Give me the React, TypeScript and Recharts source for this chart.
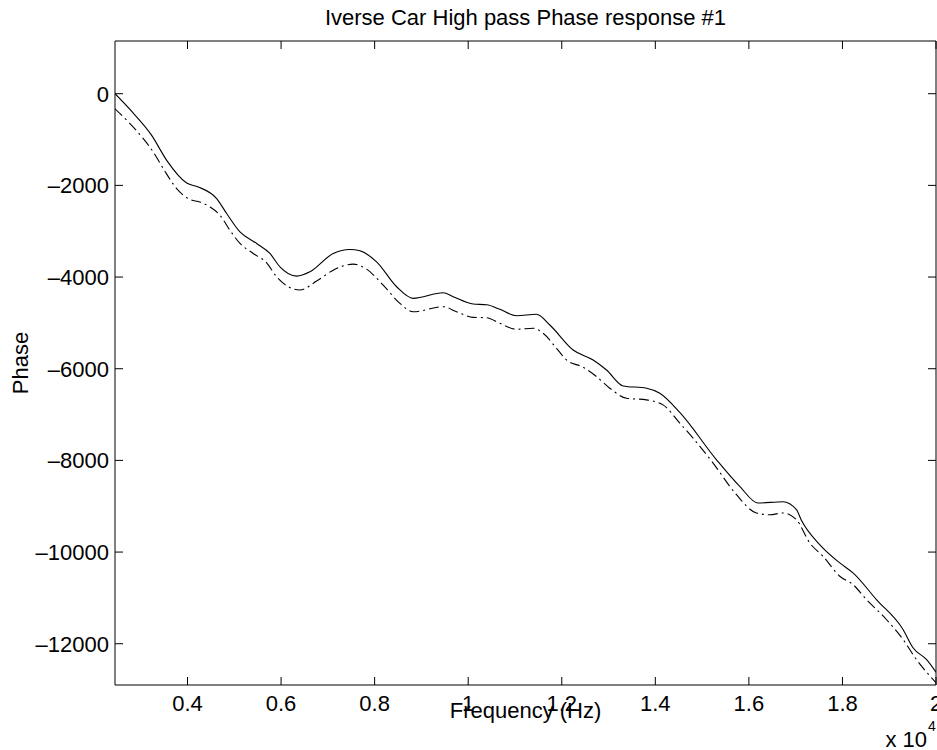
import React from 'react';
import { LineChart, Line, XAxis, YAxis, Label } from 'recharts';

const solidFreq = [2450, 2841, 3234, 3555, 3982, 4230, 4623, 4837, 5121, 5478, 5762, 5976, 6333, 6617, 7115, 7472, 7685, 8042, 8470, 8824, 9465, 9679, 10106, 10393, 10677, 11034, 11461, 11745, 12243, 12671, 12957, 13312, 13812, 14096, 14523, 15308, 15805, 16196, 16730, 17017, 17120, 17514, 17942, 18226, 18726, 19295, 19509, 19795, 20000];
const solidPhase = [0, -423, -908, -1453, -1947, -2034, -2287, -2614, -3014, -3267, -3485, -3777, -3979, -3886, -3485, -3398, -3428, -3668, -4212, -4465, -4343, -4430, -4589, -4604, -4704, -4844, -4813, -5046, -5591, -5809, -6027, -6375, -6425, -6534, -6952, -7987, -8568, -8930, -8901, -9076, -9300, -9838, -10237, -10454, -11036, -11689, -12088, -12343, -12620];

const dashFreq = [2450, 2771, 3055, 3268, 3482, 3768, 4053, 4266, 4480, 4694, 4907, 5121, 5405, 5692, 5905, 6403, 6760, 7115, 7542, 7828, 8183, 8540, 8824, 9465, 9752, 10106, 10393, 10677, 11034, 11389, 11602, 11888, 12102, 12457, 12743, 13027, 13384, 13812, 14166, 14523, 14807, 15235, 15735, 16162, 16447, 16730, 17017, 17302, 17586, 17942, 18226, 18512, 18940, 19295, 19581, 20000];
const dashPhase = [-330, -653, -980, -1272, -1634, -2069, -2309, -2361, -2470, -2651, -2978, -3267, -3485, -3690, -3994, -4284, -4088, -3849, -3718, -3827, -4175, -4574, -4757, -4648, -4757, -4879, -4887, -5009, -5140, -5118, -5227, -5554, -5809, -5968, -6172, -6425, -6643, -6680, -6789, -7187, -7514, -8059, -8749, -9148, -9185, -9148, -9294, -9801, -10093, -10528, -10709, -11036, -11471, -11907, -12343, -12850];

const xTicks = [4000, 6000, 8000, 10000, 12000, 14000, 16000, 18000, 20000];
const yTicks = [-12000, -10000, -8000, -6000, -4000, -2000, 0];

const solidData = solidFreq.map((f, i) => ({ f, p: solidPhase[i] }));
const dashData = dashFreq.map((f, i) => ({ f, p: dashPhase[i] }));

const FONT = '"Liberation Sans", Arial, Helvetica, sans-serif';
const FS = 22;
const tickStyle = { fontFamily: FONT, fontSize: FS, fill: '#000' };

const xDomain: [number, number] = [2450, 20000];
const yDomain: [number, number] = [-12900, 1150];

export default function App() {
  return (
    <div style={{ position: 'absolute', left: 0, top: 0 }}>
      <LineChart width={937} height={750} margin={{ top: 0, right: 0, bottom: 0, left: 0 }}>
        <XAxis
          xAxisId="b"
          type="number"
          dataKey="f"
          domain={xDomain}
          ticks={xTicks}
          allowDataOverflow
          height={65}
          stroke="#000"
          tickSize={-8}
          tickMargin={18}
          tick={tickStyle}
          tickFormatter={(v: number) => String(v / 10000)}
          interval={0}
        >
          <Label
            content={(props: any) => {
              const vb = props.viewBox || {};
              const cx = vb.x + vb.width / 2;
              const right = vb.x + vb.width;
              return (
                <g>
                  <text x={cx} y={vb.y + 33} textAnchor="middle" fontFamily={FONT} fontSize={FS} fill="#000">
                    Frequency (Hz)
                  </text>
                  <text x={right - 9} y={vb.y + 62} textAnchor="end" fontFamily={FONT} fontSize={FS} fill="#000">
                    x 10
                  </text>
                  <text x={right - 8} y={vb.y + 46} textAnchor="start" fontFamily={FONT} fontSize={14} fill="#000">
                    4
                  </text>
                </g>
              );
            }}
          />
        </XAxis>
        <XAxis
          xAxisId="t"
          orientation="top"
          type="number"
          dataKey="f"
          domain={xDomain}
          ticks={xTicks}
          allowDataOverflow
          height={41}
          stroke="#000"
          tickSize={-8}
          tickFormatter={() => ''}
          interval={0}
        >
          <Label
            content={(props: any) => {
              const vb = props.viewBox || {};
              return (
                <text
                  x={vb.x + vb.width / 2}
                  y={vb.y + vb.height - 16}
                  textAnchor="middle"
                  fontFamily={FONT}
                  fontSize={FS}
                  fill="#000"
                >
                  Iverse Car High pass Phase response #1
                </text>
              );
            }}
          />
        </XAxis>
        <YAxis
          yAxisId="l"
          type="number"
          domain={yDomain}
          ticks={yTicks}
          allowDataOverflow
          width={115}
          stroke="#000"
          tickSize={-8}
          tickMargin={14}
          tick={tickStyle}
          tickFormatter={(v: number) => (v < 0 ? '\u2013' + String(-v) : String(v))}
          interval={0}
        >
          <Label
            value="Phase"
            angle={-90}
            position="insideLeft"
            offset={20}
            style={{ fontFamily: FONT, fontSize: FS, fill: '#000', textAnchor: 'middle' }}
          />
        </YAxis>
        <YAxis
          yAxisId="r"
          orientation="right"
          type="number"
          domain={yDomain}
          ticks={yTicks}
          allowDataOverflow
          width={1}
          stroke="#000"
          tickSize={-8}
          tickFormatter={() => ''}
          interval={0}
        />
        <Line
          xAxisId="b"
          yAxisId="l"
          data={solidData}
          dataKey="p"
          type="monotone"
          stroke="#000"
          strokeWidth={1.1}
          dot={false}
          isAnimationActive={false}
        />
        <Line
          xAxisId="b"
          yAxisId="l"
          data={dashData}
          dataKey="p"
          type="monotone"
          stroke="#000"
          strokeWidth={1.1}
          strokeDasharray="10 4 2 4"
          dot={false}
          isAnimationActive={false}
        />
      </LineChart>
    </div>
  );
}
